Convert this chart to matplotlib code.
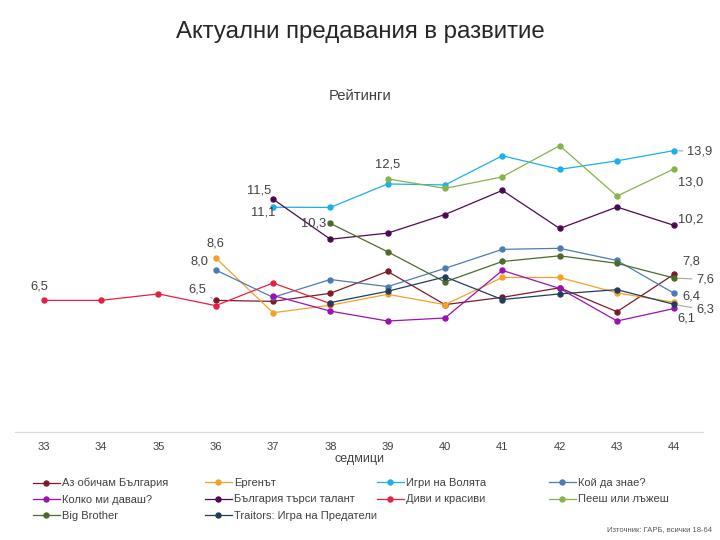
import numpy as np
import matplotlib
matplotlib.use("Agg")
import matplotlib.pyplot as plt

plt.rcParams["font.family"] = ["Liberation Sans", "DejaVu Sans"]

# ---- data: weekly ratings per show ----
names = [
    "Аз обичам България", "Ергенът", "Игри на Волята", "Кой да знае?",
    "Колко ми даваш?", "България търси талант", "Диви и красиви",
    "Пееш или лъжеш", "Big Brother", "Traitors: Игра на Предатели",
]
colors = [
    "#7B1C2A", "#F4A127", "#1AB0EA", "#4A7DB5",
    "#9A12B3", "#4D0A50", "#E8203F",
    "#86B44A", "#4C6B2A", "#1F3E5E",
]

weeks_az = [36, 37, 38, 39, 40, 41, 42, 43, 44]
az = [6.5, 6.45, 6.85, 7.93, 6.29, 6.65, 7.12, 5.94, 7.8]

weeks_erg = [36, 37, 38, 39, 40, 41, 42, 43, 44]
erg = [8.6, 5.89, 6.26, 6.80, 6.29, 7.63, 7.63, 6.87, 6.4]

weeks_igri = [37, 38, 39, 40, 41, 42, 43, 44]
igri = [11.1, 11.09, 12.25, 12.2, 13.64, 12.97, 13.39, 13.9]

weeks_koy = [36, 37, 38, 39, 40, 41, 42, 43, 44]
koy = [8.0, 6.65, 7.53, 7.18, 8.08, 9.02, 9.07, 8.47, 6.84]

weeks_kolko = [37, 38, 39, 40, 41, 42, 43, 44]
kolko = [6.74, 5.97, 5.48, 5.63, 7.98, 7.09, 5.48, 6.1]

weeks_btt = [37, 38, 39, 40, 41, 42, 43, 44]
btt = [11.5, 9.52, 9.82, 10.74, 11.93, 10.05, 11.11, 10.2]

weeks_divi = [33, 34, 35, 36, 37, 38]
divi = [6.5, 6.5, 6.82, 6.24, 7.36, 6.34]

weeks_peesh = [39, 40, 41, 42, 43, 44]
peesh = [12.5, 12.03, 12.6, 14.14, 11.65, 13.0]

weeks_bb = [38, 39, 40, 41, 42, 43, 44]
bb = [10.3, 8.9, 7.41, 8.42, 8.7, 8.33, 7.6]

weeks_tr = [38, 39, 40, 41, 42, 43, 44]
traitors = [6.39, 6.95, 7.66, 6.54, 6.82, 7.03, 6.3]

all_weeks = [weeks_az, weeks_erg, weeks_igri, weeks_koy, weeks_kolko,
             weeks_btt, weeks_divi, weeks_peesh, weeks_bb, weeks_tr]
all_vals = [az, erg, igri, koy, kolko, btt, divi, peesh, bb, traitors]

week_ticks = list(range(33, 45))

# labelled points: (series index, point index, dx, dy in points, leader line)
point_labels = [
    (6, 0, -3, 10, False),
    (1, 0, 0, 10, False),
    (3, 0, -12, 6, False),
    (0, 0, -13, 8, True),
    (5, 0, -10, 6, False),
    (2, 0, -7, -4, False),
    (8, 0, -12, 0, False),
    (7, 0, 0, 10, False),
    (2, -1, 18, -1, True),
    (7, -1, 12, -10, False),
    (5, -1, 12, 4, False),
    (0, -1, 12, 9, False),
    (8, -1, 22, -1, True),
    (1, -1, 12, 4, False),
    (9, -1, 22, -4, True),
    (4, -1, 9, -7, False),
]

fig = plt.figure(figsize=(7.2, 5.4), dpi=100)
ax = fig.add_axes([15 / 720, 108 / 540, 688 / 720, 324 / 540])

lines = []
for wk, vals, name, col in zip(all_weeks, all_vals, names, colors):
    ln, = ax.plot(wk, vals, color=col, lw=0.9, marker="o", ms=3.6,
                  label=name, zorder=3)
    lines.append(ln)

for si, pi, dx, dy, leader in point_labels:
    x = all_weeks[si][pi]
    y = all_vals[si][pi]
    txt = f"{y:.1f}".replace(".", ",")
    kw = {}
    if leader:
        kw["arrowprops"] = dict(arrowstyle="-", color="#A6A6A6", lw=0.8,
                                shrinkA=1, shrinkB=3)
    ax.annotate(txt, (x, y), xytext=(dx, dy), textcoords="offset points",
                ha="center", va="center", fontsize=9.3, color="#404040",
                zorder=4, **kw)

ax.set_xlim(32.5, 44.5)
ax.set_ylim(0, 16)
ax.set_xticks(week_ticks)
ax.set_xticklabels([str(w) for w in week_ticks])
ax.tick_params(axis="x", length=0, pad=7, labelsize=8, labelcolor="#404040")
ax.set_yticks([])
for s in ["top", "right", "left"]:
    ax.spines[s].set_visible(False)
ax.spines["bottom"].set_color("#D9D9D9")
ax.spines["bottom"].set_linewidth(0.9)
ax.set_xlabel("седмици", fontsize=9, color="#404040", labelpad=1)

fig.text(0.5, 1 - 32 / 540, "Актуални предавания в развитие", ha="center",
         va="center", fontsize=17.3, color="#262626")
fig.text(0.5, 1 - 96 / 540, "Рейтинги", ha="center", va="center",
         fontsize=10.7, color="#404040")
fig.text(712 / 720, 1 - 530 / 540, "Източник: ГАРБ, всички 18-64",
         ha="right", va="center", fontsize=5.5, color="#595959")

# legend: four fixed-width columns, filled row by row
col_x = [33, 205, 377, 549]
for c, x0 in enumerate(col_x):
    idx = list(range(c, len(names), 4))
    fig.legend([lines[i] for i in idx], [names[i] for i in idx],
               loc="upper left", bbox_to_anchor=(x0 / 720, 1 - 478 / 540),
               frameon=False, fontsize=8, handlelength=2.4,
               handletextpad=0.2, labelspacing=0.58, borderaxespad=0,
               borderpad=0, labelcolor="#404040")

fig.savefig("out.png", dpi=100)
